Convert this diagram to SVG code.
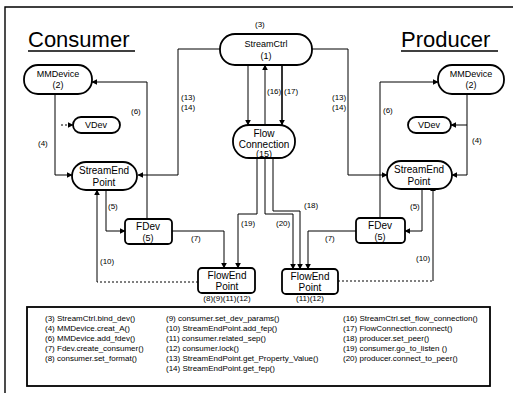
<svg xmlns="http://www.w3.org/2000/svg" width="513" height="393" viewBox="0 0 513 393">
<defs>
<marker id="ah" viewBox="0 0 10 10" refX="9" refY="5" markerWidth="6" markerHeight="6" orient="auto" markerUnits="userSpaceOnUse">
<path d="M0,0 L10,5 L0,10 z" fill="#000"/>
</marker>
</defs>
<style>
text{font-family:"Liberation Sans",Arial,sans-serif;fill:#000}
.n{fill:#fff;stroke:#000;stroke-width:1.8}
.t{font-size:9px;text-anchor:middle}
.tl{font-size:10px;text-anchor:middle}
.lb{font-size:8px}
.lg{font-size:8px}
.c{fill:none;stroke:#000;stroke-width:1}
.a{marker-end:url(#ah)}
.d{stroke-dasharray:2,2}
.ttl{font-size:22px}
</style>
<rect width="513" height="393" fill="#fff"/>
<path d="M5,393 V7 H513" fill="none" stroke="#000" stroke-width="1.4"/>

<text class="ttl" x="28" y="47">Consumer</text>
<line x1="28" y1="51" x2="135" y2="51" stroke="#000" stroke-width="1.5"/>
<text class="ttl" x="401" y="47">Producer</text>
<line x1="401" y1="51" x2="498" y2="51" stroke="#000" stroke-width="1.5"/>

<g id="connectors">
<path class="c a" d="M248,65 V125"/>
<path class="c a" d="M265,125 V65"/>
<path class="c a" style="stroke-width:1.6" d="M282,65 V125"/>
<path class="c a" d="M220,49 H178 V175 H138"/>
<path class="c a" d="M312,49 H348 V175 H387"/>
<path class="c a" d="M55,93 V175 H72"/>
<path class="c a d" d="M61,125 H73"/>
<path class="c a" d="M147,219 V82 H92"/>
<path class="c a" d="M106,190 V231 H125"/>
<path class="c a" d="M172,231 H224 V268"/>
<path class="c d" d="M198,282 H97"/>
<path class="c a" d="M97,282 V190"/>
<path class="c a" d="M257,158 V214 H238 V268"/>
<path class="c a" d="M265,158 V214 H293 V269"/>
<path class="c a" d="M273,158 V211 H300 V269"/>
<path class="c a" d="M356,231 H308 V269"/>
<path class="c a" d="M422,186 V231 H405"/>
<path class="c d" d="M338,281 H433"/>
<path class="c a" d="M433,281 V186"/>
<path class="c a" d="M467,93 V175 H452"/>
<path class="c a" d="M467,125 H451"/>
<path class="c a" d="M380,218 V82 H438"/>
</g>

<g id="labels">
<text class="lb" x="255" y="27">(3)</text>
<text class="lb" x="267" y="94">(16)</text>
<text class="lb" x="284" y="94">(17)</text>
<text class="lb" x="181" y="100">(13)</text>
<text class="lb" x="181" y="110">(14)</text>
<text class="lb" x="332" y="100">(13)</text>
<text class="lb" x="332" y="110">(14)</text>
<text class="lb" x="38" y="146">(4)</text>
<text class="lb" x="131" y="114">(6)</text>
<text class="lb" x="108" y="209">(5)</text>
<text class="lb" x="191" y="241">(7)</text>
<text class="lb" x="100" y="264">(10)</text>
<text class="lb" x="241" y="226">(19)</text>
<text class="lb" x="276" y="226">(20)</text>
<text class="lb" x="304" y="208">(18)</text>
<text class="lb" x="325" y="241">(7)</text>
<text class="lb" x="410" y="209">(5)</text>
<text class="lb" x="416" y="261">(10)</text>
<text class="lb" x="472" y="143">(4)</text>
<text class="lb" x="383" y="113">(6)</text>
<text class="lb" x="227" y="301" text-anchor="middle">(8)(9)(11)(12)</text>
<text class="lb" x="310" y="301" text-anchor="middle">(11)(12)</text>
</g>

<g id="streamctrl">
<rect class="n" x="220" y="34" width="92" height="31" rx="15"/>
<text class="t" x="266" y="47">StreamCtrl</text>
<text class="t" x="266" y="59">(1)</text>
</g>
<g id="flowconnection">
<rect class="n" x="233" y="125" width="62" height="33" rx="16"/>
<text class="tl" x="264" y="137">Flow</text>
<text class="tl" x="264" y="148">Connection</text>
<text class="t" x="264" y="157">(15)</text>
</g>
<g id="c-mmdevice">
<rect class="n" x="24" y="65" width="68" height="29" rx="14"/>
<text class="t" x="58" y="77">MMDevice</text>
<text class="t" x="58" y="88">(2)</text>
</g>
<g id="c-vdev">
<rect class="n" x="73" y="117" width="47" height="16" rx="8"/>
<text class="t" x="96" y="128">VDev</text>
</g>
<g id="c-streamend">
<rect class="n" x="72" y="162" width="65" height="28" rx="14"/>
<text class="tl" x="104" y="174">StreamEnd</text>
<text class="tl" x="104" y="186">Point</text>
</g>
<g id="c-fdev">
<rect class="n" x="125" y="219" width="47" height="25" rx="4"/>
<text class="tl" x="148" y="230">FDev</text>
<text class="t" x="148" y="241">(5)</text>
</g>
<g id="c-flowend">
<rect class="n" x="198" y="268" width="57" height="25" rx="4"/>
<text class="tl" x="227" y="279">FlowEnd</text>
<text class="tl" x="227" y="290">Point</text>
</g>
<g id="p-flowend">
<rect class="n" x="282" y="269" width="56" height="25" rx="4"/>
<text class="tl" x="310" y="280">FlowEnd</text>
<text class="tl" x="310" y="291">Point</text>
</g>
<g id="p-mmdevice">
<rect class="n" x="438" y="65" width="66" height="29" rx="14"/>
<text class="t" x="471" y="77">MMDevice</text>
<text class="t" x="471" y="88">(2)</text>
</g>
<g id="p-vdev">
<rect class="n" x="408" y="117" width="43" height="16" rx="8"/>
<text class="t" x="429" y="128">VDev</text>
</g>
<g id="p-streamend">
<rect class="n" x="387" y="161" width="65" height="28" rx="14"/>
<text class="tl" x="419" y="173">StreamEnd</text>
<text class="tl" x="419" y="185">Point</text>
</g>
<g id="p-fdev">
<rect class="n" x="356" y="218" width="49" height="25" rx="4"/>
<text class="tl" x="380" y="229">FDev</text>
<text class="t" x="380" y="240">(5)</text>
</g>

<g id="legend">
<rect x="27" y="307" width="463" height="79" fill="#fff" stroke="#000" stroke-width="1.8"/>
<text class="lg" x="45" y="321">(3) StreamCtrl.bind_dev()</text>
<text class="lg" x="45" y="331">(4) MMDevice.creat_A()</text>
<text class="lg" x="45" y="341">(6) MMDevice.add_fdev()</text>
<text class="lg" x="45" y="351">(7) Fdev.create_consumer()</text>
<text class="lg" x="45" y="361">(8) consumer.set_format()</text>
<text class="lg" x="166" y="321">(9) consumer.set_dev_params()</text>
<text class="lg" x="166" y="331">(10) StreamEndPoint.add_fep()</text>
<text class="lg" x="166" y="341">(11) consumer.related_sep()</text>
<text class="lg" x="166" y="351">(12) consumer.lock()</text>
<text class="lg" x="166" y="361">(13) StreamEndPoint.get_Property_Value()</text>
<text class="lg" x="166" y="371">(14) StreamEndPoint.get_fep()</text>
<text class="lg" x="343" y="321">(16) StreamCtrl.set_flow_connection()</text>
<text class="lg" x="343" y="331">(17) FlowConnection.connect()</text>
<text class="lg" x="343" y="341">(18) producer.set_peer()</text>
<text class="lg" x="343" y="351">(19) consumer.go_to_listen ()</text>
<text class="lg" x="343" y="361">(20) producer.connect_to_peer()</text>
</g>
</svg>
